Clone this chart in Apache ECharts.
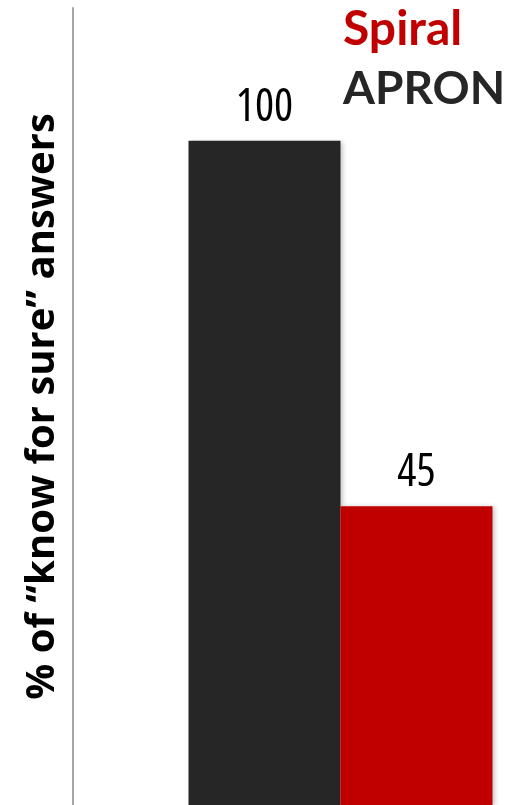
<!DOCTYPE html>
<html>
<head>
<meta charset="utf-8">
<script src="https://cdn.jsdelivr.net/npm/echarts@6/dist/echarts.min.js"></script>
<style>html,body{margin:0;padding:0;background:#fff;}#c{width:514px;height:805px;}</style>
</head>
<body>
<div id="c"></div>
<script>
const categories = [''];
const seriesNames = ['APRON', 'Spiral'];
const apronValues = [100];
const spiralValues = [45];
const yAxisTitle = '% of \u201cknow for sure\u201d answers';

const chart = echarts.init(document.getElementById('c'), null, {renderer: 'canvas'});
const labelStyle = {
  show: true, position: 'top', distance: 10,
  fontFamily: '"Open Sans"', fontWeight: 'normal condensed',
  fontSize: 45, color: '#000'
};
chart.setOption({
  animation: false,
  backgroundColor: '#fff',
  grid: {left: 167, right: 0, top: 8, bottom: -1.5, containLabel: false},
  legend: {
    orient: 'vertical', left: 333, top: 1, icon: 'none', itemWidth: 0, itemGap: 12,
    selectedMode: false,
    data: [
      {name: 'Spiral', textStyle: {color: '#c00000', fontSize: 48}},
      {name: 'APRON', textStyle: {color: '#262626'}}
    ],
    textStyle: {fontFamily: 'Lato', fontWeight: 'bold', fontSize: 46}
  },
  xAxis: {
    type: 'category', data: categories,
    axisLine: {show: false}, axisTick: {show: false}, axisLabel: {show: false}
  },
  yAxis: {
    type: 'value', min: 0, max: 120, offset: 94,
    name: yAxisTitle, nameLocation: 'middle', nameRotate: 90, nameGap: 10,
    nameTextStyle: {
      fontFamily: '"Open Sans"',
      fontWeight: 'bold', fontSize: 40, color: '#000'
    },
    axisLine: {show: true, lineStyle: {color: '#a6a6a6', width: 2}},
    axisTick: {show: false}, axisLabel: {show: false}, splitLine: {show: false}
  },
  series: [
    {
      name: seriesNames[0], type: 'bar', data: apronValues, barWidth: 152, barGap: '0%',
      itemStyle: {color: '#262626', shadowColor: 'rgba(0,0,0,0.25)', shadowBlur: 5, shadowOffsetX: 2, shadowOffsetY: 1},
      label: labelStyle
    },
    {
      name: seriesNames[1], type: 'bar', data: spiralValues, barWidth: 152, barGap: '0%',
      itemStyle: {color: '#c00000', shadowColor: 'rgba(0,0,0,0.25)', shadowBlur: 5, shadowOffsetX: 2, shadowOffsetY: 1},
      label: labelStyle
    }
  ]
});
</script>
</body>
</html>
